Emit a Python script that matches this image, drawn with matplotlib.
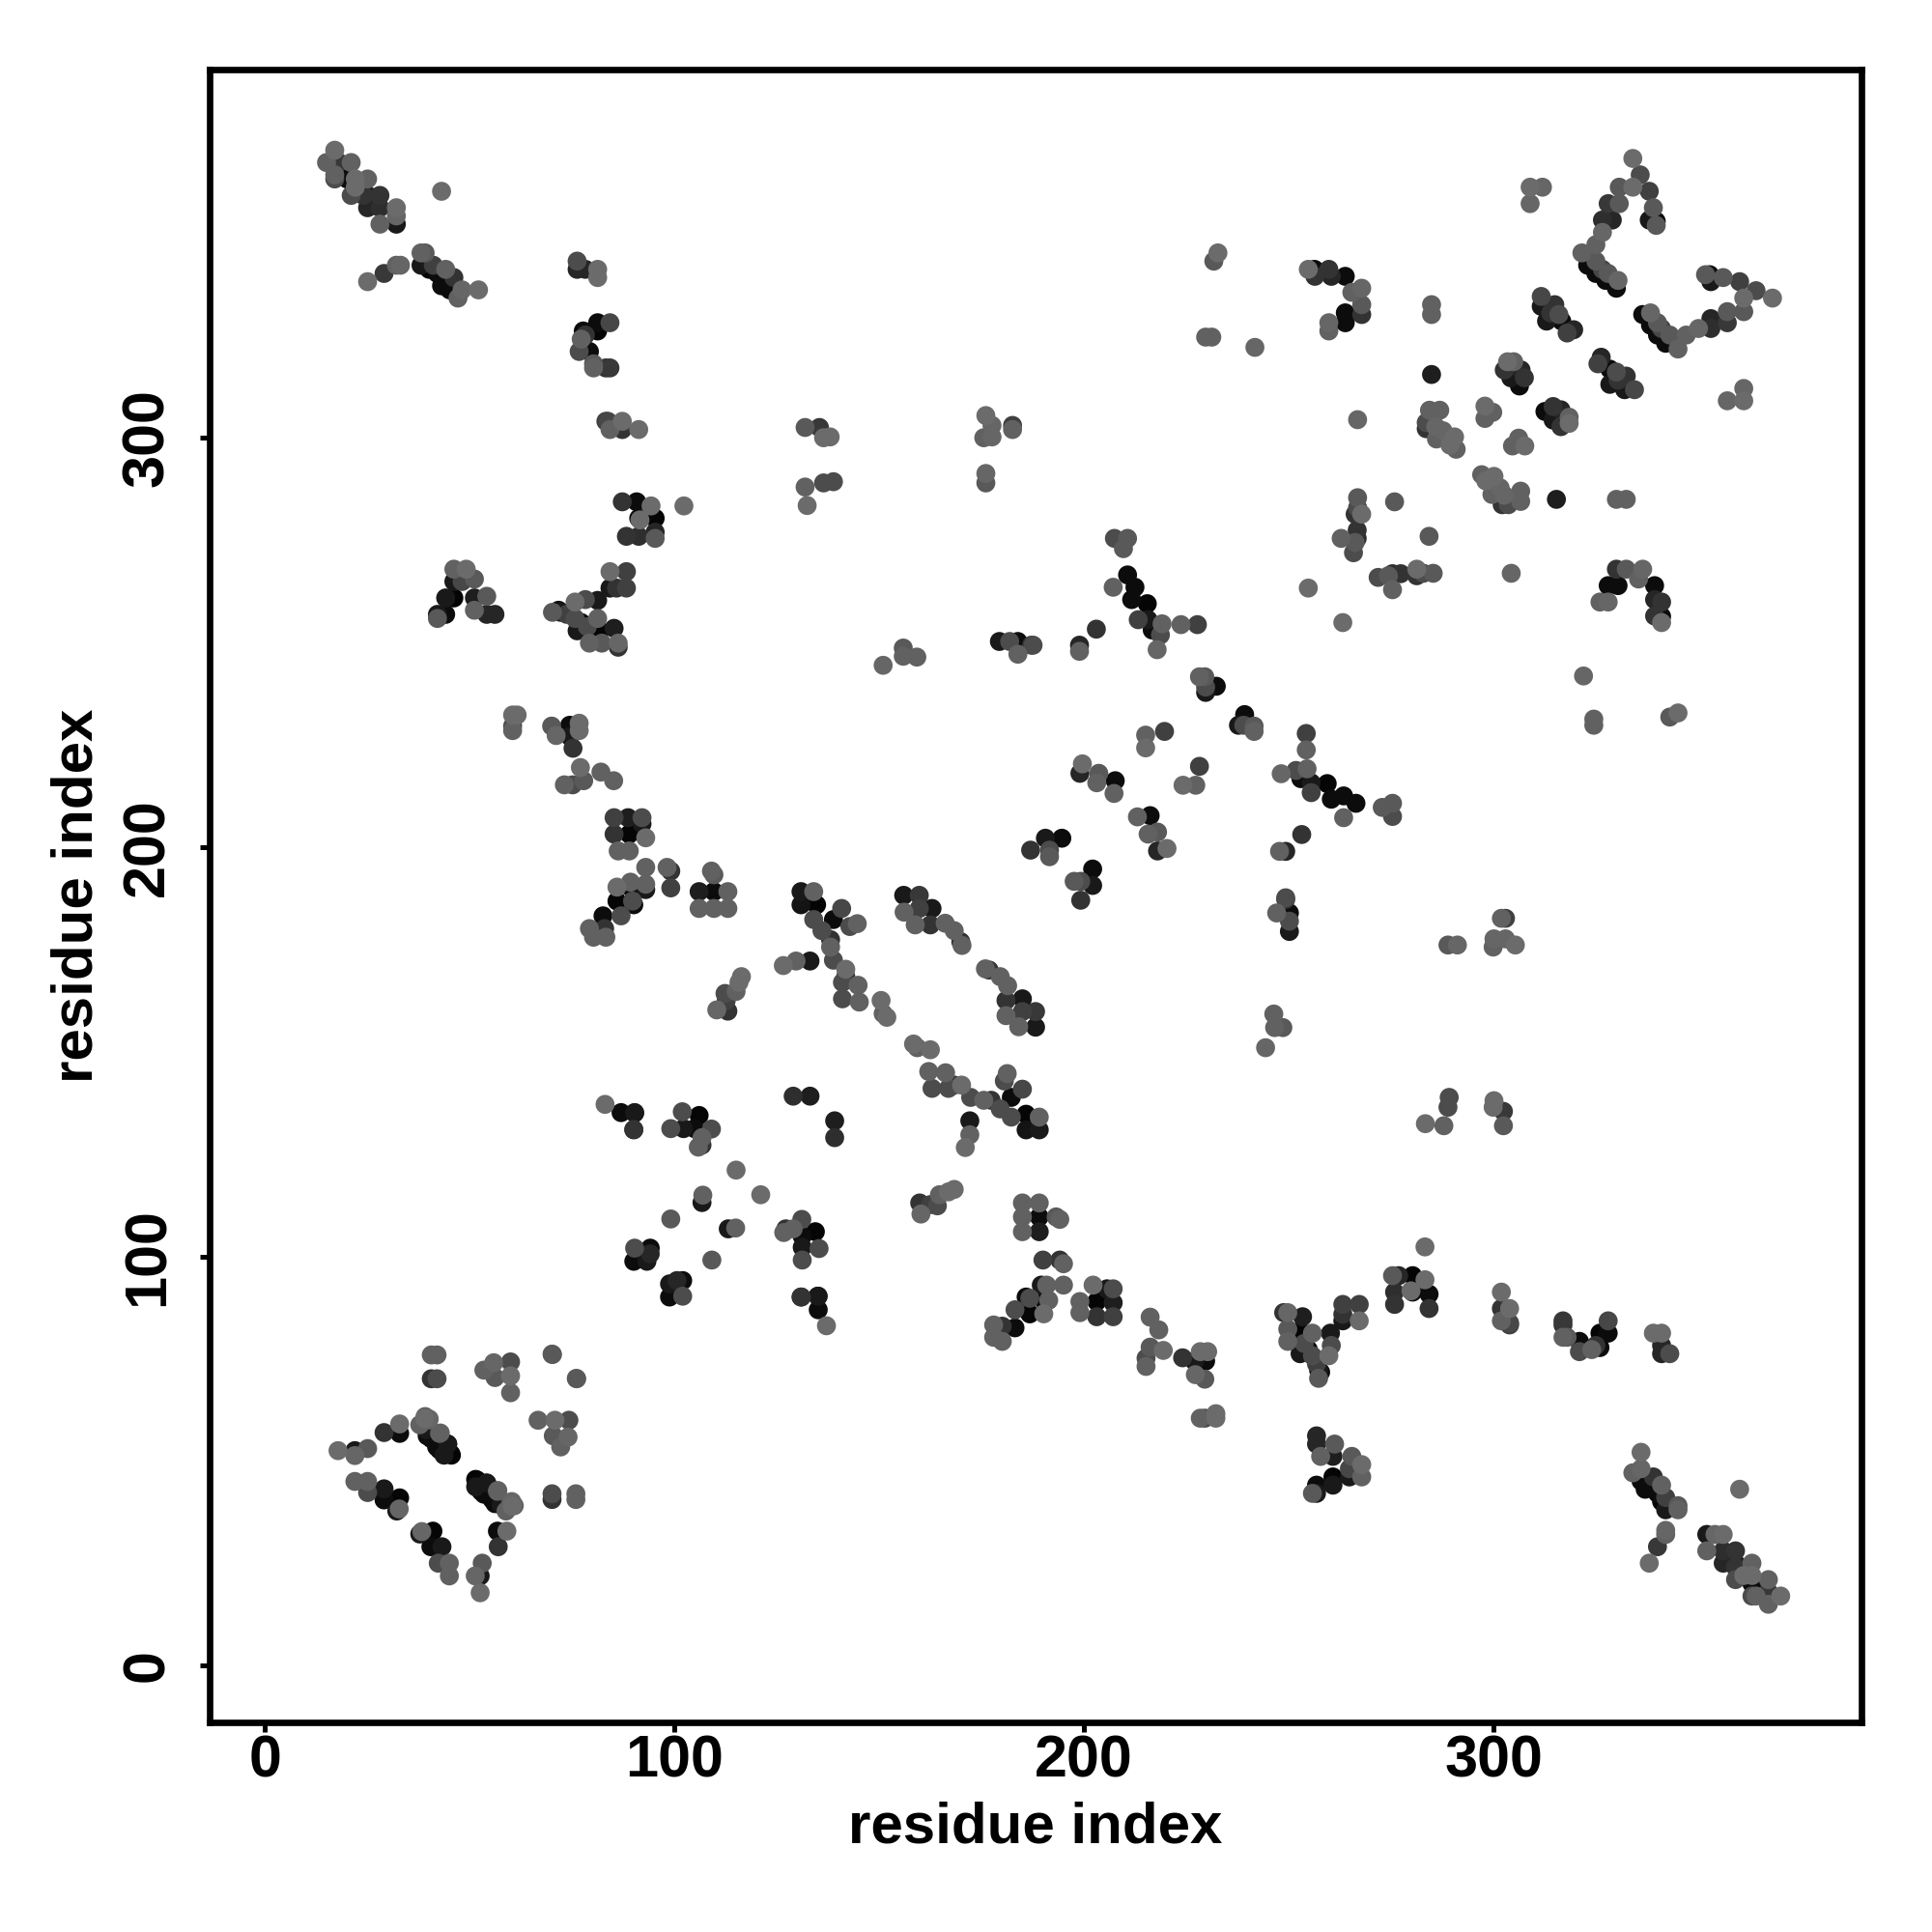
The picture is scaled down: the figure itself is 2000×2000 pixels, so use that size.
import numpy as np
import matplotlib
matplotlib.use("Agg")
import matplotlib.pyplot as plt

plt.rcParams['font.family'] = ['Liberation Sans', 'DejaVu Sans']

# contacts, one side of the diagonal only (map is symmetric)
# each line is one cluster, same count in all three lists
res_i = [
    17,15,18,21,17,17,20,22,25,21,22,24,25,28,25,28,32,28,32,32,
    43,
    25,29,32,33,38,39,38,39,41,40,42,44,46,43,45,48,47,52,
    76,76,78,81,81,
    81,84,77.5,81,77,78,76.5,79,80,80,83,84,
    83,84,83.5,87,87,91,
    131.5,135,136,131.5,136,132,137.6,138.4,
    87,90.5,94,95,91,91.3,88,91,95,95,102,
    46,49,46,51,48,44,46,51,54,42,44,42,51,54,56,
    70,72,71.5,73.5,75.5,78,81,75.5,77,76,78.5,79,81,81.5,85,82,86,86,84,88,84,88,85.6,
    232,231,229,230.5,241,
    254,255.5,259,259.6,263,255.6,267,264.6,267,267,263,263,259,259,
    284,284,308,311,308,
    333,334.8,333,329.7,337,327,329.7,338,325.6,328,337,338.7,338.7,325.6,324,320.6,
    322,324,325.6,324,327,326.4,329,329.4,
    310.7,310.7,314,313,315,315.7,317,318.6,312,
    284,302.5,304,301.7,305.8,303.3,306.6,305.4,
    297,298.9,297,
    283.5,286,282.7,282.7,285,286.8,285.2,289.6,288.5,290,266,
    266,266,265.4,267,275,262,265.9,265.9,265,265.4,
    254,
    206.8,210,209,
    210,206.5,211.8,211,214.8,212.6,215,218.4,216,218,223,227,217.2,
    202.4,198.3,198.3,
    178.8,181.3,183.3,186.6,183.3,187,
    150.5,155.4,155.4,158.7,
    175.5,175,177,177,182,182,175.5,175.5,
    227.5,228.8,231.6,229,229,
    214.4,214.4,219,
    199,198.4,203,202.5,207,206.7,
    190,194,186.4,191,191,
]
res_j = [
    369,366,366,366,362,363,362,362,362,358,360,358,358,358,355,355,355,351,351,353,
    359,
    337,339,341,341,344,344,341,342,341,340,339,340,338,336,335,335,333,335,
    342,340,340,340,338,
    327,327,325,325,323,324,320,320,317,316,316,316,
    303,301,303,303,301,301,
    301.5,301.5,299,287,288,282.5,299.2,288.3,
    283.4,283.4,282.4,279.4,279.4,279,275,275,276,274.5,282.4,
    267,267,264,264.6,264,260,260,260,260.4,256,256,255,257,256,256,
    256.5,256.5,257,256,259,259.6,259.4,255,254,252,253,249,255,252,252.6,249,249,248,266.4,266.4,262.4,262.4,262.4,
    344,342,323.5,323.5,321,
    340,340,340,338.3,338.3,338.3,335.4,334.4,331.4,329,329.4,327,327,325,
    331.4,329,360,360,356,
    367,363,360,360,359,356,356,355,352,352,352,351.7,350.7,349,346,344,
    341,342,340,339,339,337.3,335.4,337.3,
    333.4,331,331.4,329.4,329,327.4,324.5,325.3,327.4,
    314.4,317.5,317.5,315.5,315.5,313.6,313.6,311.6,
    306.7,305.2,303.7,
    305.7,305.7,302.7,301.2,301.7,300.7,298.7,299.2,297.2,296.2,303.4,
    284.4,282,280.4,280.4,283.4,274.5,276.5,274.5,271,273.5,
    262.4,
    274.5,274.5,272,
    265.6,262.6,262.6,259.6,258.6,254.7,254.7,253.7,252.2,251,253.5,253.5,247.4,
    252.4,248.5,247,
    249.4,249.4,249.4,248.5,246.3,248.5,
    243.6,247.8,245.8,245.6,
    304.4,299,302,299.2,302,301,290.3,288,
    240.8,240.8,238.5,238.3,237,
    226.6,223.5,227.5,
    219.6,217.3,217.3,215,215.5,212.4,
    201.5,201.5,198.6,198.6,197,
]
shade = [
    .42,.38,.22,.38,.3,.38,.05,.42,.38,.3,.42,.2,.12,.2,.15,.18,.42,.38,.1,.4,
    .42,
    .42,.22,.38,.4,.38,.35,.1,.05,.25,.02,.05,.38,.2,.05,.05,.4,.38,.42,
    .3,.15,.15,.42,.42,
    .05,.28,.05,.02,.38,.2,.3,.05,.35,.38,.2,.22,
    .25,.38,.28,.42,.2,.42,
    .35,.22,.42,.38,.3,.42,.42,.3,
    .2,.05,.42,.02,.05,.42,.2,.18,.15,.35,.42,
    .38,.42,.1,.35,.28,.1,.02,.12,.35,.1,.05,.35,.38,.15,.15,
    .35,.1,.05,.25,.42,.3,.1,.3,.05,.1,.3,.38,.38,.02,.12,.35,.4,.2,.42,.25,.1,.25,.2,
    .42,.35,.38,.38,.4,
    .42,.05,.2,.15,.05,.2,.4,.38,.35,.2,.05,.05,.4,.38,
    .38,.38,.42,.4,.4,
    .42,.3,.42,.35,.25,.22,.35,.35,.18,.15,.1,.05,.35,.4,.38,.38,
    .05,.35,.28,.05,.35,.05,.05,.4,
    .28,.1,.2,.2,.3,.05,.25,.15,.1,
    .12,.42,.38,.2,.15,.1,.2,.05,
    .42,.38,.38,
    .38,.38,.3,.2,.4,.4,.38,.42,.42,.38,.4,
    .35,.3,.2,.42,.35,.38,.2,.18,.3,.35,
    .42,
    .3,.35,.35,
    .05,.38,.05,.05,.02,.25,.1,.38,.05,.3,.38,.25,.4,
    .2,.15,.38,
    .1,.3,.05,.2,.38,.3,
    .4,.35,.38,.38,
    .42,.38,.4,.4,.25,.38,.4,.35,
    .38,.35,.05,.3,.1,
    .38,.42,.25,
    .42,.15,.35,.38,.05,.38,
    .1,.05,.2,.3,.35,
]

# clusters closer to the middle and the low-residue corner
low_i = [
    60.3,60.3,60.3,61.4,
    69.8,70.9,74.2,74.2,76.5,76.5,75,
    76.8,72.9,74.9,77.6,81.8,84.9,
    85,88.4,91.8,85,88.7,91.8,92.7,86,88.7,
    92.7,92.7,97.9,98.8,98.8,
    85.7,89,89,92.7,89.5,85.7,89.8,82.3,86.7,79,82.7,80,83,
    108.7,109.3,105.7,109.3,112.7,105.7,109.3,112.7,
    130.5,133.6,130.5,134.3,140.4,133.6,138.4,142.4,144.2,135.6,137.7,137.7,138.4,
    126.2,129.3,132.7,
    141.4,141.4,144.4,140.6,140.6,144.7,
    150,150.5,151.4,
    116,115.4,114.7,112,112.3,110,112.7,
    155.5,159.3,155.6,159.3,162.4,158.3,162,165.6,167.8,169.4,169.7,
    82.8,86.7,90,89.8,
    101.6,105.7,98.8,101.9,104.6,108.7,106.4,105.5,106.4,
    128.6,132.7,
    114.7,106.6,106.4,98.8,
    90,93.8,89.8,93,93.8,
    130.5,134.6,
    40.5,41.9,40.5,41.9,
    53.3,55.7,59.8,56,59.8,59.8,70,75.9,
    17.8,21.9,25,21.9,29,32.8,32.8,38.9,39.8,39.2,42.5,40.5,44.5,42.5,45.2,
    21.9,25,25,29,29,32.8,32.1,32.7,
    45.4,44.5,43.6,41.8,42.7,39.5,40,39,37.7,
]
low_j = [
    231.5,228.8,227.7,231.5,
    228.8,226.5,229,226.3,229.5,227.7,223.4,
    218.7,214.5,214.5,215.5,217.6,215.5,
    206.5,206.5,206.5,202.5,202.5,205,201.6,198.4,198.4,
    194.4,190.3,194.4,193.5,189.4,
    189.6,189.6,190.8,189,186.2,186.2,185.3,182.6,182.6,179.5,179.5,177.4,177.4,
    193.5,192.6,188.5,188.5,188.5,184.4,184.4,184.4,
    188.5,188.5,185.3,185.3,184.4,181.7,181.7,180,180.7,179,176.8,175,171.8,
    170.5,171.6,171.6,
    169.6,167.8,165.7,166.4,162.4,161.6,
    162,158.8,157.9,
    167.8,166.4,164.2,163.7,162,159.7,159.4,
    187.6,187.6,183.5,184.4,184.4,180.4,180.4,180.8,179,176.3,175.4,
    136.7,134.7,134.7,130.6,
    134.9,134,130.8,130.8,130.8,130.7,128.6,126.3,126.8,
    138.7,138.7,
    120.7,114.6,112.8,108.8,
    101.7,101.7,98.5,98.5,100.3,
    89.8,90,
    75.7,75.7,69.9,69.9,
    72,73.8,74,70.2,70.6,66.5,75.8,69.9,
    52.4,52.4,52.9,51.2,56.8,56.6,58.9,60.2,59.8,57.5,56.6,55.3,54,52.6,51.7,
    44.9,44.9,42.2,43.1,40.4,40.9,37.7,38.2,
    51.3,54,51.3,53.3,56.7,56,60.1,60.7,58.7,
]
low_shade = [
    .42,.3,.38,.42,
    .35,.4,.05,.1,.42,.42,.2,
    .42,.38,.3,.35,.38,.38,
    .25,.12,.3,.2,.02,.1,.42,.38,.38,
    .38,.38,.38,.2,.25,
    .42,.05,.38,.1,.3,.02,.05,.05,.3,.38,.2,.38,.38,
    .38,.35,.12,.05,.38,.38,.38,.38,
    .1,.38,.08,.02,.28,.3,.05,.3,.38,.3,.2,.38,.3,
    .42,.38,.1,
    .42,.2,.38,.3,.3,.38,
    .42,.38,.42,
    .42,.42,.38,.3,.25,.4,.2,
    .1,.22,.38,.25,.1,.38,.2,.38,.38,.2,.38,
    .42,.05,.1,.2,
    .3,.02,.3,.1,.05,.3,.38,.38,.2,
    .18,.12,
    .42,.38,.1,.35,
    .3,.05,.05,.1,.15,
    .15,.05,
    .38,.38,.2,.3,
    .38,.4,.3,.35,.42,.38,.35,.35,
    .42,.1,.35,.4,.2,.05,.42,.42,.35,.1,.38,.05,.05,.02,.02,
    .38,.38,.3,.1,.05,.02,.1,.4,
    .02,.1,.1,.05,.38,.05,.4,.38,.38,
]

i_all = np.array(res_i + low_i, dtype=float)
j_all = np.array(res_j + low_j, dtype=float)
s_all = np.array(shade + low_shade, dtype=float)
n = min(len(i_all), len(j_all), len(s_all))
print(len(res_i), len(res_j), len(shade), len(low_i), len(low_j), len(low_shade))
i_all, j_all, s_all = i_all[:n], j_all[:n], s_all[:n]

# readings above were taken with a slightly tight axis scale
READ_SCALE = 1.003

fig = plt.figure(figsize=(10, 10), dpi=200)
ax = fig.add_axes([217/2000, 1-1783/2000, (1927.3-217)/2000, (1783-71.6)/2000])

xs = np.r_[i_all, j_all] * READ_SCALE
ys = np.r_[j_all, i_all] * READ_SCALE
greys = np.r_[s_all, s_all]
order = np.argsort(greys)  # darker dots first
ax.scatter(xs[order], ys[order], c=greys[order], cmap='gray', vmin=0, vmax=1,
           s=50, linewidths=0)

ax.set_xlim(-13.5, 389.9)
ax.set_ylim(-13.8, 389.9)
ax.set_xticks([0, 100, 200, 300])
ax.set_yticks([0, 100, 200, 300])
ax.tick_params(length=3.5, width=1.8)
ax.tick_params(axis='x', pad=1)
ax.tick_params(axis='y', pad=9)
for lab in ax.get_xticklabels():
    lab.set_fontsize(22)
    lab.set_fontweight('bold')
for lab in ax.get_yticklabels():
    lab.set_fontsize(22)
    lab.set_fontweight('bold')
    lab.set_rotation(90)
    lab.set_verticalalignment('center')
for sp in ax.spines.values():
    sp.set_linewidth(2.4)

fig.text(840/1568, 1-1483/1568, "residue index", fontsize=21.6, fontweight='bold',
         ha='center', va='center')
fig.text(63/1568, 1-727/1568, "residue index", fontsize=21.6, fontweight='bold',
         rotation=90, ha='center', va='center')

plt.savefig("out.png", dpi=200)
